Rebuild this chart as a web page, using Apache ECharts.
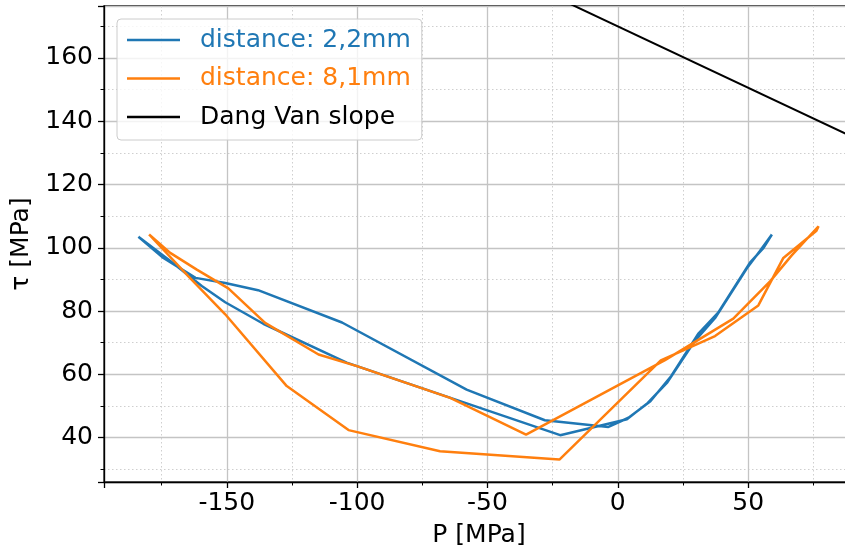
<!DOCTYPE html>
<html>
<head>
<meta charset="utf-8">
<script src="https://cdn.jsdelivr.net/npm/echarts@6/dist/echarts.min.js"></script>
<style>html,body{margin:0;padding:0;background:#fff;overflow:hidden}#c{width:845px;height:552px}</style>
</head>
<body>
<div id="c"></div>
<script>
// ---- data ----
const seriesNames = ['distance: 2,2mm', 'distance: 8,1mm', 'Dang Van slope'];

const blueP   = [-183.9,-174.3,-162.0,-150.6,-138.0,-105.8,-58.0,-28.0,-3.6,4.1,12.5,20.5,31.0,38.5,50.7,55.9,59.1,
                 54.5,49.5,37.5,29.5,19.0,11.5,3.5,-22.1,-104.0,-136.0,-150.6,-159.6,-172.4,-183.9];
const blueTau = [103.5,96.8,90.5,88.9,86.6,76.4,55.2,45.5,43.4,46.3,51.5,59.5,73.0,79.5,95.3,100.0,104.2,
                 99.0,93.5,78.0,70.5,57.5,51.0,45.8,40.8,63.7,76.0,82.8,87.9,96.3,103.5];

const orangeP   = [-179.8,-171.7,-161.5,-149.4,-135.3,-114.8,-100.1,-64.3,-35.2,18.1,44.3,58.4,66.7,77.0,
                   76.2,63.5,53.9,37.3,16.5,-22.4,-68.2,-103.3,-127.0,-150.6,-164.7,-179.8];
const orangeTau = [104.2,98.4,93.1,87.2,76.3,66.3,62.6,52.6,41.0,64.5,77.6,89.4,97.6,106.8,
                   105.4,96.8,81.8,72.1,64.4,33.1,35.7,42.4,56.3,79.0,91.0,104.2];

const dangVanP   = [-30, 100];
const dangVanTau = [181.6, 131.2];

const xRange = [-197.1, 90.6];
const yRange = [26.0, 176.4];

// ---- build ----
const pairs = (xs, ys) => xs.map((x, i) => [x, ys[i]]);
const FONT = 'DejaVu Sans';
const colors = ['#1f77b4', '#ff7f0e', '#000000'];

const chart = echarts.init(document.getElementById('c'), null, {renderer: 'canvas'});

const axisCommon = {
  type: 'value',
  nameLocation: 'middle',
  nameTextStyle: {fontFamily: FONT, fontSize: 25, color: '#000'},
  axisLine: {show: true, onZero: false, lineStyle: {color: '#000', width: 1.3}},
  axisTick: {show: true, length: 6, lineStyle: {color: '#000', width: 1.3}},
  minorTick: {show: true, splitNumber: 2, length: 3.5, lineStyle: {color: '#000', width: 1}},
  axisLabel: {fontFamily: FONT, fontSize: 25, color: '#000', showMinLabel: false, showMaxLabel: false},
  splitLine: {show: true, lineStyle: {color: '#c4c4c4', width: 1.3}},
  minorSplitLine: {show: true, lineStyle: {color: '#cfcfcf', width: 1, type: [1.5, 2.5]}}
};

chart.setOption({
  animation: false,
  backgroundColor: '#fff',
  grid: {left: 104, top: 6, width: 750, bottom: 70, outerBoundsMode: 'none', containLabel: false,
         show: true, borderColor: '#000', borderWidth: 1.3, backgroundColor: 'transparent'},
  xAxis: Object.assign({}, axisCommon, {
    name: 'P [MPa]', nameGap: 41, min: xRange[0], max: xRange[1], splitNumber: 6,
    axisLabel: Object.assign({}, axisCommon.axisLabel, {margin: 9})
  }),
  yAxis: Object.assign({}, axisCommon, {
    name: 'τ [MPa]', nameGap: 65, min: yRange[0], max: yRange[1], splitNumber: 7,
    axisLabel: Object.assign({}, axisCommon.axisLabel, {margin: 11})
  }),
  legend: {
    orient: 'vertical', left: 117, top: 19,
    padding: [6, 11, 8, 10], itemGap: 8.5,
    itemWidth: 53, itemHeight: 2.5, icon: 'rect',
    backgroundColor: 'rgba(255,255,255,0.8)', borderColor: '#cccccc', borderWidth: 1, borderRadius: 4,
    textStyle: {fontFamily: FONT, fontSize: 25, lineHeight: 30, padding: [0, 0, 0, 15]},
    data: seriesNames.map((n, i) => ({name: n, textStyle: {color: colors[i]}}))
  },
  series: [
    {name: seriesNames[0], type: 'line', data: pairs(blueP, blueTau), showSymbol: false, symbol: 'none',
     color: colors[0], lineStyle: {color: colors[0], width: 2.5}, z: 3},
    {name: seriesNames[1], type: 'line', data: pairs(orangeP, orangeTau), showSymbol: false, symbol: 'none',
     color: colors[1], lineStyle: {color: colors[1], width: 2.5}, z: 4},
    {name: seriesNames[2], type: 'line', data: pairs(dangVanP, dangVanTau), showSymbol: false, symbol: 'none',
     color: colors[2], lineStyle: {color: colors[2], width: 2}, z: 3, clip: true}
  ]
});
</script>
</body>
</html>
